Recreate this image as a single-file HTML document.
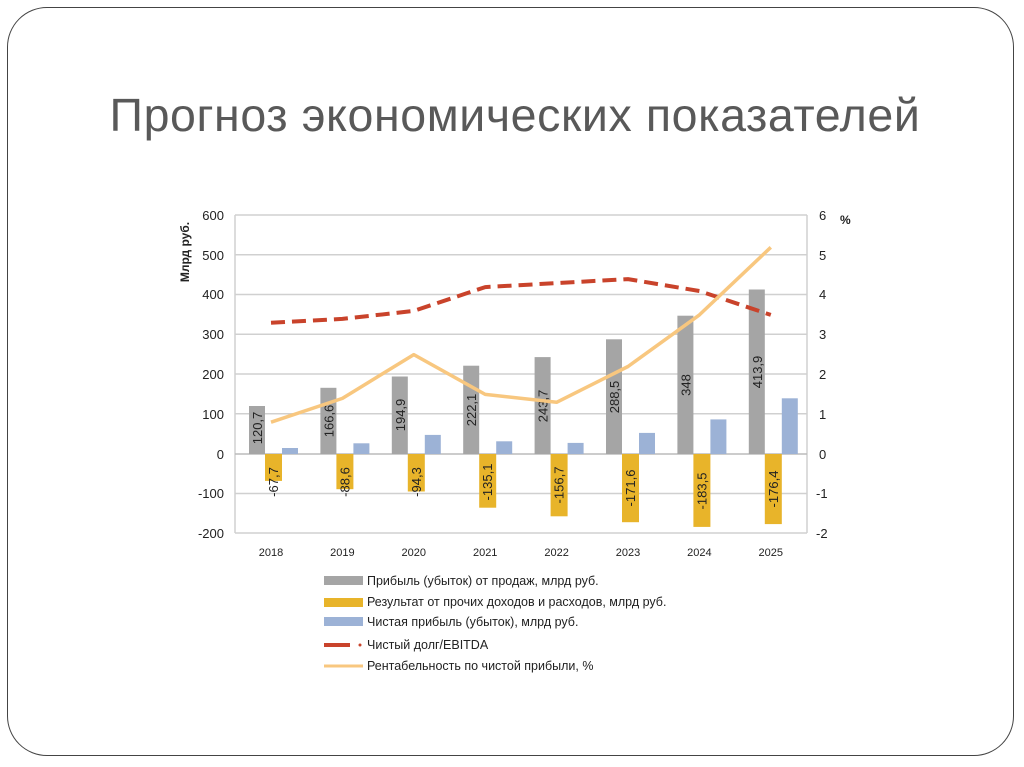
<!DOCTYPE html>
<html><head><meta charset="utf-8"><style>
html,body{margin:0;padding:0;background:#fff;}
body{width:1024px;height:767px;position:relative;overflow:hidden;font-family:"Liberation Sans",sans-serif;}
.frame{position:absolute;left:7px;top:7px;width:1007px;height:749px;border:1.5px solid #444;border-radius:40px;box-sizing:border-box;}
h1{position:absolute;left:0;width:1030px;top:88px;margin:0;text-align:center;font-weight:normal;font-size:46.5px;color:#595959;letter-spacing:0.6px;}
</style></head><body>
<div class="frame"></div>
<h1>Прогноз экономических показателей</h1>
<svg width="1024" height="767" style="position:absolute;left:0;top:0" font-family="Liberation Sans, sans-serif">
<g stroke="#d0d0d0" stroke-width="1.5">
<line x1="235" x2="807" y1="215" y2="215"/><line x1="235" x2="807" y1="254.75" y2="254.75"/>
<line x1="235" x2="807" y1="294.5" y2="294.5"/><line x1="235" x2="807" y1="334.25" y2="334.25"/>
<line x1="235" x2="807" y1="374" y2="374"/><line x1="235" x2="807" y1="413.75" y2="413.75"/>
<line x1="235" x2="807" y1="493.5" y2="493.5"/><line x1="235" x2="807" y1="533" y2="533"/>
<line x1="235" x2="235" y1="215" y2="533"/><line x1="807" x2="807" y1="215" y2="533"/>
</g>
<line x1="235" x2="807" y1="454" y2="454" stroke="#bbb" stroke-width="1.5"/>
<g font-size="13" fill="#222" text-anchor="end">
<text x="224" y="220">600</text><text x="224" y="260">500</text><text x="224" y="299">400</text>
<text x="224" y="339">300</text><text x="224" y="379">200</text><text x="224" y="419">100</text>
<text x="224" y="459">0</text><text x="224" y="498">-100</text><text x="224" y="538">-200</text>
</g>
<g font-size="13" fill="#222">
<text x="819" y="220">6</text><text x="819" y="260">5</text><text x="819" y="299">4</text>
<text x="819" y="339">3</text><text x="819" y="379">2</text><text x="819" y="419">1</text>
<text x="819" y="459">0</text><text x="816" y="498">-1</text><text x="816" y="538">-2</text>
<text x="840" y="224" font-weight="bold" font-size="12">%</text>
</g>
<text transform="translate(189,252) rotate(-90)" text-anchor="middle" font-size="12" font-weight="bold" fill="#222">Млрд руб.</text>
<g font-size="11" fill="#222" text-anchor="middle">
<text x="271" y="556">2018</text><text x="342.4" y="556">2019</text><text x="413.8" y="556">2020</text>
<text x="485.2" y="556">2021</text><text x="556.6" y="556">2022</text><text x="628" y="556">2023</text>
<text x="699.4" y="556">2024</text><text x="770.8" y="556">2025</text>
</g>
<g fill="#a5a5a5">
<rect x="249" y="406" width="16" height="48"/><rect x="320.4" y="387.8" width="16" height="66.2"/>
<rect x="391.8" y="376.5" width="16" height="77.5"/><rect x="463.2" y="365.7" width="16" height="88.3"/>
<rect x="534.6" y="357.1" width="16" height="96.9"/><rect x="606" y="339.3" width="16" height="114.7"/>
<rect x="677.4" y="315.7" width="16" height="138.3"/><rect x="748.8" y="289.5" width="16" height="164.5"/>
</g>
<g fill="#e8b42a">
<rect x="265" y="454" width="17" height="26.9"/><rect x="336.4" y="454" width="17" height="35.2"/>
<rect x="407.8" y="454" width="17" height="37.5"/><rect x="479.2" y="454" width="17" height="53.7"/>
<rect x="550.6" y="454" width="17" height="62.3"/><rect x="622" y="454" width="17" height="68.2"/>
<rect x="693.4" y="454" width="17" height="72.9"/><rect x="764.8" y="454" width="17" height="70.1"/>
</g>
<g fill="#9cb2d6">
<rect x="282" y="448" width="16" height="6"/><rect x="353.4" y="443.3" width="16" height="10.7"/>
<rect x="424.8" y="434.9" width="16" height="19.1"/><rect x="496.2" y="441.3" width="16" height="12.7"/>
<rect x="567.6" y="442.9" width="16" height="11.1"/><rect x="639" y="432.9" width="16" height="21.1"/>
<rect x="710.4" y="419.4" width="16" height="34.6"/><rect x="781.8" y="398.3" width="16" height="55.7"/>
</g>
<g font-size="13" fill="#222" text-anchor="middle">
<text transform="translate(262,428) rotate(-90)">120,7</text>
<text transform="translate(333.4,421) rotate(-90)">166,6</text>
<text transform="translate(404.8,415) rotate(-90)">194,9</text>
<text transform="translate(476.2,410) rotate(-90)">222,1</text>
<text transform="translate(547.6,406) rotate(-90)">243,7</text>
<text transform="translate(619,397) rotate(-90)">288,5</text>
<text transform="translate(690.4,385) rotate(-90)">348</text>
<text transform="translate(761.8,372) rotate(-90)">413,9</text>
<text transform="translate(278,482) rotate(-90)">-67,7</text>
<text transform="translate(349.4,482) rotate(-90)">-88,6</text>
<text transform="translate(420.8,482) rotate(-90)">-94,3</text>
<text transform="translate(492.2,482) rotate(-90)">-135,1</text>
<text transform="translate(563.6,485) rotate(-90)">-156,7</text>
<text transform="translate(635,488) rotate(-90)">-171,6</text>
<text transform="translate(706.4,491) rotate(-90)">-183,5</text>
<text transform="translate(777.8,489) rotate(-90)">-176,4</text>
</g>
<polyline fill="none" stroke="#c9432b" stroke-width="4" stroke-dasharray="14,7" stroke-linejoin="round"
 points="271,322.8 342.4,318.9 413.8,310.9 485.2,287.1 556.6,283.1 628,279.1 699.4,291 770.8,314.9"/>
<polyline fill="none" stroke="#f8c77f" stroke-width="3.5" stroke-linejoin="round"
 points="271,422.2 342.4,398.4 413.8,354.6 485.2,394.4 556.6,402.3 628,366.5 699.4,314.9 770.8,247.3"/>
<rect x="324" y="576" width="39" height="9" fill="#a5a5a5"/>
<rect x="324" y="598" width="39" height="9" fill="#e8b42a"/>
<rect x="324" y="617" width="39" height="9" fill="#9cb2d6"/>
<line x1="324" x2="350" y1="645" y2="645" stroke="#c9432b" stroke-width="4"/>
<circle cx="360" cy="645" r="1.5" fill="#c9432b"/>
<line x1="324" x2="363" y1="666" y2="666" stroke="#f8c77f" stroke-width="3"/>
<g font-size="12.5" fill="#222">
<text x="367" y="585">Прибыль (убыток) от продаж, млрд руб.</text>
<text x="367" y="606">Результат от прочих доходов и расходов, млрд руб.</text>
<text x="367" y="626">Чистая прибыль (убыток), млрд руб.</text>
<text x="367" y="649">Чистый долг/EBITDA</text>
<text x="367" y="670">Рентабельность по чистой прибыли, %</text>
</g>
</svg>
</body></html>
